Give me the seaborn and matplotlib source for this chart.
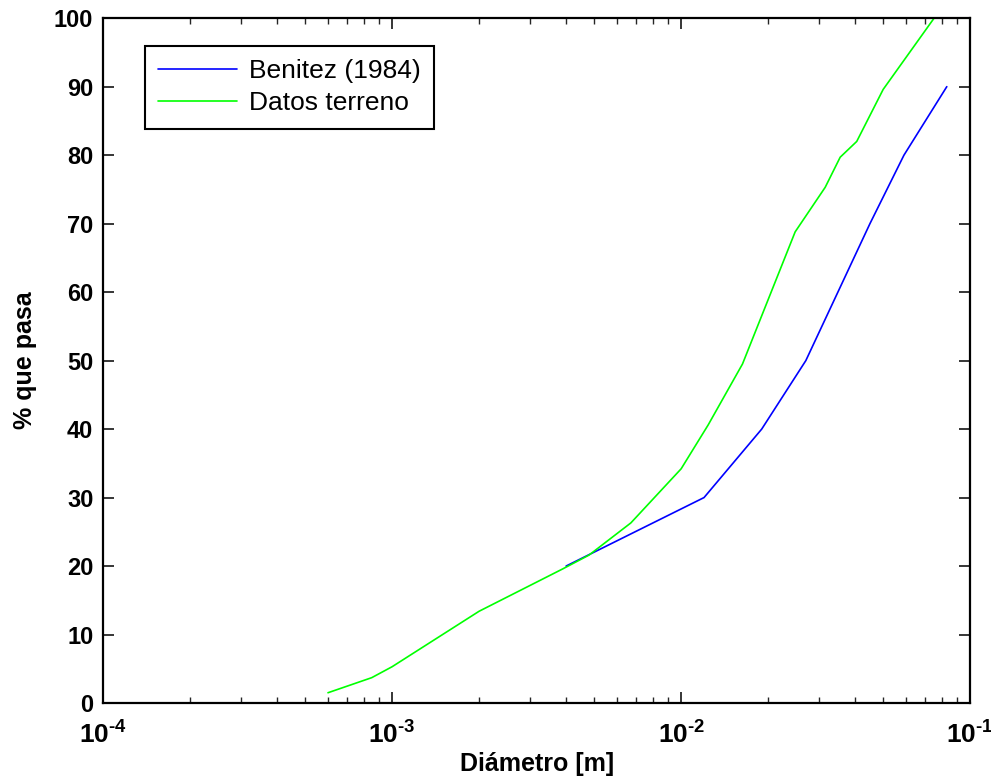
import numpy as np
import pandas as pd
import matplotlib
matplotlib.use("Agg")
import matplotlib.pyplot as plt
import seaborn as sns
from matplotlib.ticker import LogLocator, NullFormatter, FixedLocator, FixedFormatter

benitez_d = [0.004, 0.012, 0.019, 0.027, 0.045, 0.059, 0.083]
benitez_p = [20, 30, 40, 50, 70, 80, 90]

terreno_d = [6.0e-4, 8.5e-4, 1.0e-3, 2.0e-3, 3.9e-3, 4.8e-3, 6.7e-3, 1.0e-2, 1.24e-2,
             1.63e-2, 2.48e-2, 3.15e-2, 3.55e-2, 4.05e-2, 5.0e-2, 7.5e-2, 1.0e-1]
terreno_p = [1.5, 3.7, 5.3, 13.4, 19.6, 21.6, 26.3, 34.2, 40.6,
             49.5, 68.8, 75.3, 79.7, 82.0, 89.6, 100, 100]

series_names = ["Benitez (1984)", "Datos terreno"]
x_ticks = [1e-4, 1e-3, 1e-2, 1e-1]
x_tick_labels = [r"$\mathregular{10^{\text{-}4}}$", r"$\mathregular{10^{\text{-}3}}$",
                 r"$\mathregular{10^{\text{-}2}}$", r"$\mathregular{10^{\text{-}1}}$"]

df = pd.concat([
    pd.DataFrame({"d": benitez_d, "p": benitez_p, "serie": series_names[0]}),
    pd.DataFrame({"d": terreno_d, "p": terreno_p, "serie": series_names[1]}),
], ignore_index=True)

sns.set_theme(style="ticks")
plt.rcParams["font.family"] = ["Liberation Sans", "DejaVu Sans"]
plt.rcParams["text.color"] = "black"
plt.rcParams["axes.labelcolor"] = "black"
plt.rcParams["mathtext.fontset"] = "custom"
plt.rcParams["mathtext.rm"] = "Liberation Sans:bold"
plt.rcParams["mathtext.bf"] = "Liberation Sans:bold"

fig = plt.figure(figsize=(9.91, 7.80), dpi=100)
ax = fig.add_axes([0.104, 0.0987, 0.875, 0.878])

sns.lineplot(data=df, x="d", y="p", hue="serie", sort=False, estimator=None,
             palette={series_names[0]: "#0000ff", series_names[1]: "#00ff00"},
             linewidth=1.2, ax=ax)
for ln in ax.get_lines():
    ln.set_clip_on(False)

ax.set_xscale("log")
ax.set_xlim(1e-4, 1e-1)
ax.set_ylim(0, 100)
ax.set_yticks(np.arange(0, 101, 10))
ax.xaxis.set_major_locator(FixedLocator(x_ticks))
ax.xaxis.set_major_formatter(FixedFormatter(x_tick_labels))
ax.xaxis.set_minor_locator(LogLocator(base=10, subs=np.arange(2, 10), numticks=20))
ax.xaxis.set_minor_formatter(NullFormatter())

for s in ax.spines.values():
    s.set_visible(True)
    s.set_linewidth(1.6)
    s.set_color("black")

ax.tick_params(which="major", direction="in", length=8, width=1.1, top=True, right=True,
               colors="black")
ax.tick_params(which="minor", direction="in", length=4, width=1.0, top=True, right=True)
ax.tick_params(axis="y", which="major", labelsize=17, pad=7)
ax.tick_params(axis="x", which="major", labelsize=19, pad=13)
for lab in ax.get_xticklabels() + ax.get_yticklabels():
    lab.set_fontweight("bold")

ax.set_xlabel("Diámetro [m]", fontsize=18, fontweight="bold", labelpad=3)
ax.set_ylabel("% que pasa", fontsize=18, fontweight="bold", labelpad=12)

leg = ax.legend(loc="upper left", bbox_to_anchor=(0.048, 0.959), borderaxespad=0,
                prop={"size": 19}, frameon=True, fancybox=False, handlelength=3.0,
                borderpad=0.5, labelspacing=0.3, handletextpad=0.45)
leg.get_frame().set_edgecolor("black")
leg.get_frame().set_linewidth(1.5)
leg.get_frame().set_alpha(1)
for t in leg.get_texts():
    t.set_color("black")

fig.savefig("out.png", dpi=100)
